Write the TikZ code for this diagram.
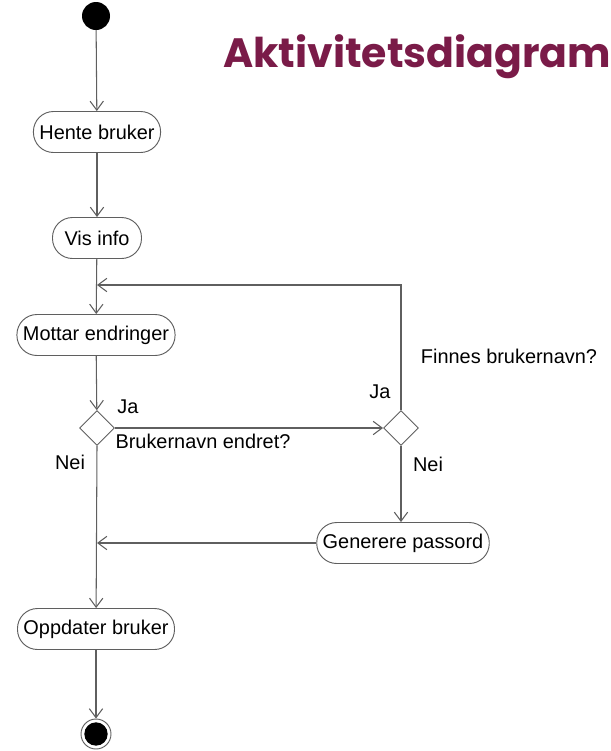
\documentclass[tikz,border=0pt]{standalone}
\usepackage{fontspec}
\setmainfont{Liberation Sans}
\newfontfamily\titlefont{Poppins}
\usetikzlibrary{arrows.meta,shapes.geometric}
\definecolor{linecol}{RGB}{95,95,95}
\definecolor{titlecol}{RGB}{122,27,72}
\begin{document}
\begin{tikzpicture}[x=0.03cm, y=-0.03cm,
    every node/.style={font=\fontsize{17}{20}\selectfont},
    >={Straight Barb[length=0.27cm,width=0.4cm]},
    flow/.style={->, draw=linecol, line width=0.9pt},
    activity/.style={draw=linecol, line width=0.8pt, rectangle, rounded corners=0.6cm,
      minimum height=1.23cm, inner xsep=0.18cm},
    choice/.style={draw=linecol, line width=0.8pt, diamond, aspect=1, inner sep=0,
      minimum size=1.05cm}]
  \useasboundingbox (0,0) rectangle (610,751);
  % tittel
  \node (tittel) [anchor=base west, text=titlecol,
    font=\titlefont\bfseries\fontsize{35}{40}\selectfont] at (219,67) {Aktivitetsdiagram};
  % aktiviteter
  \node (start) [circle, fill=black, inner sep=0, minimum size=0.84cm] at (96,16) {};
  \node (hente) [activity] at (97,132) {Hente bruker};
  \node (vis) [activity, minimum width=2.67cm] at (97,238) {Vis info};
  \node (mottar) [activity] at (96,335) {Mottar endringer};
  \node (endret) [choice] at (97,428) {};
  \node (finnes) [choice] at (401,428) {};
  \node (generere) [activity] at (403,543) {Generere passord};
  \node (oppdater) [activity] at (96,629) {Oppdater bruker};
  \node (slutt) [circle, draw=linecol, line width=0.8pt, inner sep=0, minimum size=0.9cm] at (96,734) {};
  \fill (slutt) circle (0.35cm);
  \coordinate (retur) at (97,285);
  \coordinate (samle) at (97,543);
  % piler
  \draw[flow] (start) -- (hente);
  \draw[flow] (hente) -- (vis);
  \draw[flow] (vis) -- (mottar);
  \draw[flow] (mottar) -- (endret);
  \draw[flow] (endret.east) -- (finnes.west);
  \draw[flow] (finnes.north) |- (retur);
  \draw[flow] (finnes.south) -- (generere.north -| finnes.south);
  \draw[flow] (generere.west) -- (samle);
  \draw[flow] (endret.south) -- (oppdater);
  \draw[flow] (oppdater) -- (slutt);
  % tekster
  \node (ja1) at (128,407) {Ja};
  \node (spm1) at (203,441) {Brukernavn endret?};
  \node (nei1) at (70,462) {Nei};
  \node (ja2) at (380,392) {Ja};
  \node (spm2) at (509,356) {Finnes brukernavn?};
  \node (nei2) at (428,464) {Nei};
\end{tikzpicture}
\end{document}
